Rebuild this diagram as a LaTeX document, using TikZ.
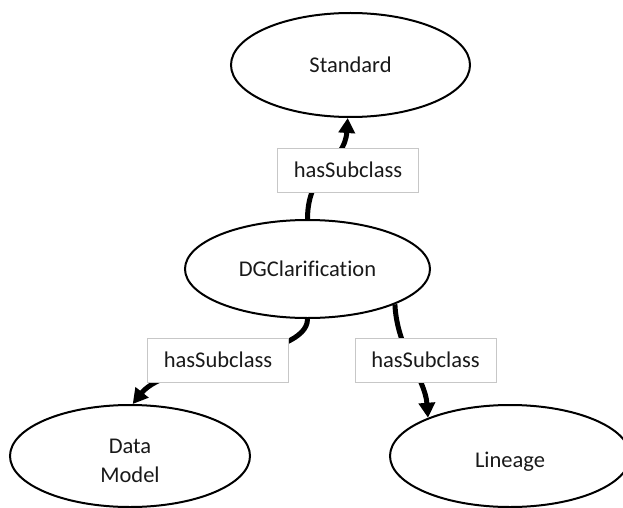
\documentclass[tikz,border=0pt]{standalone}
\usepackage{fontspec}
\setmainfont{Carlito}[Ligatures=NoCommon]
\usetikzlibrary{shapes.geometric,arrows.meta}
\begin{document}
\begin{tikzpicture}[x=1pt,y=-1pt,
  cls/.style={ellipse,draw=black,line width=2pt,inner sep=0pt,font=\fontsize{22.5}{26}\selectfont,text=black!90,align=center},
  rel/.style={draw=black!22,line width=1pt,fill=white,minimum width=141pt,minimum height=44pt,inner sep=0pt,font=\fontsize{22.5}{26}\selectfont,text=black!90},
  conn/.style={line width=5pt,-{Triangle[length=15pt,width=16pt]}}]
\useasboundingbox (0,0) rectangle (623,508);
\node[cls,minimum width=239pt,minimum height=104pt] (std) at (350.5,65) {Standard};
\node[cls,minimum width=245pt,minimum height=98pt] (dg) at (307.5,269) {DGClarification};
\node[cls,minimum width=240pt,minimum height=102pt] (dm) at (130,456) {\raisebox{3pt}[0pt][0pt]{\parbox[t]{80pt}{\centering\fontsize{22.5}{29}\selectfont Data\\Model}}};
\node[cls,minimum width=240pt,minimum height=102pt] (lin) at (510,456) {\raisebox{-11pt}[0pt][0pt]{Lineage}};
\draw[conn] (dg.north) .. controls +(0,-50) and +(-3,45) .. (std.-93);
\draw[conn] (dg.south) .. controls +(0,40) and +(36,-45) .. (dm.87);
\draw[conn] (dg.-22) .. controls +(2,45) and +(-3,-40) .. (lin.155);
\node[rel] (r1) at (348,170) {hasSubclass};
\node[rel] (r2) at (218,360) {hasSubclass};
\node[rel] (r3) at (425.5,360) {hasSubclass};
\end{tikzpicture}
\end{document}
